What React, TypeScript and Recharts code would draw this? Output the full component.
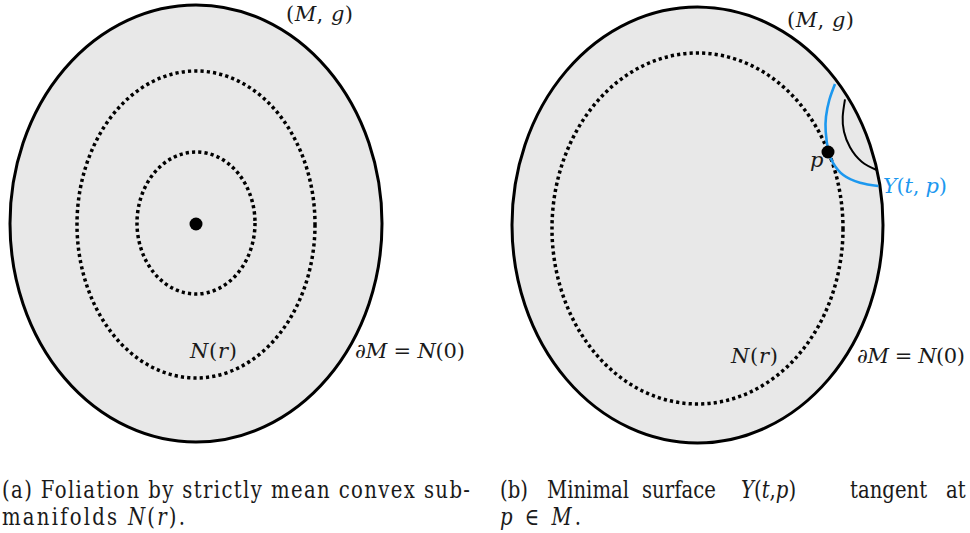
import React from 'react';
import { ComposedChart, XAxis, YAxis, ReferenceArea, Line, Scatter } from 'recharts';

const W = 970;
const H = 533;

// outer boundaries dM of both panels, bounding boxes in picture units
const boundaries = [
  { x1: 10, x2: 382, y1: 5, y2: 442 },
  { x1: 512, x2: 883, y1: 7, y2: 443 },
];

// dotted level sets N(r)
const levelSets = [
  { x1: 77, x2: 315, y1: 71, y2: 378 },
  { x1: 137, x2: 255, y1: 152, y2: 294 },
  { x1: 552, x2: 843, y1: 53, y2: 404 },
];

// centre point (a) and touching point p (b)
const points = [
  { x: 196, y: 224 },
  { x: 828, y: 152 },
];

// Y(t, p), the blue minimal surface
const surfaceY = [
  { x: 835, y: 84 },
  { x: 829.3, y: 100 },
  { x: 826, y: 116.7 },
  { x: 825.7, y: 131.7 },
  { x: 828.3, y: 150.7 },
  { x: 833.3, y: 163.3 },
  { x: 843.3, y: 175 },
  { x: 860, y: 182.7 },
  { x: 878.3, y: 186 },
];

// the smaller black surface
const surfaceInner = [
  { x: 845, y: 99.3 },
  { x: 842.7, y: 116.7 },
  { x: 844, y: 131.7 },
  { x: 850, y: 147.3 },
  { x: 861.7, y: 161.7 },
  { x: 876.7, y: 170 },
];

const serif = '"DejaVu Serif", "Liberation Serif", serif';
const SX = 0.82; // captions are set narrow, like the original

const ellipse = (fill: string, stroke: string, width: number, dash?: string) => (p: any) => (
  <ellipse
    cx={p.x + p.width / 2}
    cy={p.y + p.height / 2}
    rx={p.width / 2}
    ry={p.height / 2}
    fill={fill}
    stroke={stroke}
    strokeWidth={width}
    strokeDasharray={dash}
  />
);

const It = ({ children }: { children: React.ReactNode }) => <tspan style={{ fontStyle: 'italic' }}>{children}</tspan>;

const T = (props: any) => <text lengthAdjust="spacing" {...props} />;

const Labels = () => (
  <svg width={W} height={H} style={{ position: 'absolute', left: 0, top: 0, pointerEvents: 'none' }}>
    <g style={{ fontFamily: serif, fontSize: 21 }} fill="#1a1a1a">
      <T x={286} y={21} textLength={67}>(<It>M</It>, <It>g</It>)</T>
      <T x={787} y={27} textLength={67}>(<It>M</It>, <It>g</It>)</T>
      <T x={190} y={358} textLength={47}><It>N</It>(<It>r</It>)</T>
      <T x={355} y={358} textLength={110}>∂<It>M</It> = <It>N</It>(0)</T>
      <T x={731} y={363} textLength={47}><It>N</It>(<It>r</It>)</T>
      <T x={857} y={363} textLength={108}>∂<It>M</It> = <It>N</It>(0)</T>
      <text x={810} y={167}><It>p</It></text>
      <T x={883} y={193} textLength={64} fill="#1c98ef"><It>Y</It>(<It>t</It>, <It>p</It>)</T>
    </g>
    <g style={{ fontFamily: serif, fontSize: 24 }} fill="#1a1a1a" transform={`scale(${SX},1)`}>
      <T x={2 / SX} y={498} textLength={468 / SX}>
        (a) Foliation by strictly mean convex sub-
      </T>
      <T x={2 / SX} y={525} textLength={183 / SX}>
        manifolds <It>N</It>(<It>r</It>).
      </T>
      <text y={498}>
        <tspan x={500 / SX}>(b)</tspan>
        <tspan x={547 / SX}>Minimal</tspan>
        <tspan x={642 / SX}>surface</tspan>
        <tspan x={741 / SX}><It>Y</It>(<It>t</It>,<It>p</It>)</tspan>
        <tspan x={850 / SX}>tangent</tspan>
        <tspan x={946 / SX}>at</tspan>
      </text>
      <T x={500 / SX} y={525} textLength={81 / SX}>
        <It>p</It> ∈ <It>M</It>.
      </T>
    </g>
  </svg>
);

export default function App() {
  return (
    <div style={{ position: 'absolute', left: 0, top: 0, width: W, height: H, background: '#fff' }}>
      <ComposedChart width={W} height={H} margin={{ top: 0, right: 0, bottom: 0, left: 0 }}>
        <XAxis type="number" dataKey="x" domain={[0, W]} hide allowDataOverflow />
        <YAxis type="number" dataKey="y" domain={[0, H]} reversed hide allowDataOverflow />
        {boundaries.map((b, i) => (
          <ReferenceArea key={'b' + i} {...b} ifOverflow="visible" shape={ellipse('#e8e8e8', '#000', 3)} />
        ))}
        {levelSets.map((b, i) => (
          <ReferenceArea key={'n' + i} {...b} ifOverflow="visible" shape={ellipse('none', '#000', 3.5, '3.2 3.1')} />
        ))}
        <Line data={surfaceY} dataKey="y" type="natural" stroke="#1c98ef" strokeWidth={2.6} dot={false} isAnimationActive={false} />
        <Line data={surfaceInner} dataKey="y" type="natural" stroke="#000" strokeWidth={2} dot={false} isAnimationActive={false} />
        <Scatter
          data={points}
          dataKey="y"
          isAnimationActive={false}
          shape={(p: any) => <circle cx={p.cx} cy={p.cy} r={6.5} fill="#000" />}
        />
      </ComposedChart>
      <Labels />
    </div>
  );
}
